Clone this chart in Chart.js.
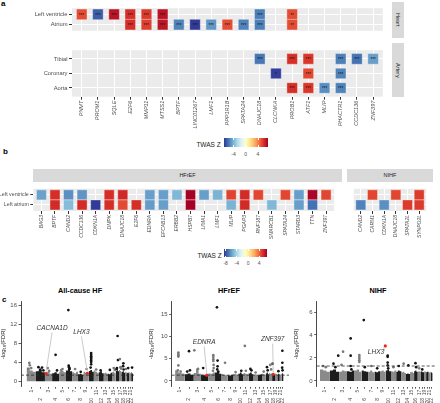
<!DOCTYPE html>
<html><head><meta charset="utf-8">
<script src="https://cdn.jsdelivr.net/npm/chart.js@4.4.0/dist/chart.umd.min.js"></script>
<style>
body{margin:0;background:#fff;width:440px;height:403px;overflow:hidden;position:relative;font-family:'Liberation Sans',Arial,sans-serif;}
canvas{position:absolute;}
.t{position:absolute;white-space:nowrap;line-height:1;}
.strip{position:absolute;background:#d9d9d9;color:#1a1a1a;font-size:5.5px;display:flex;align-items:center;justify-content:center;}
</style></head><body>
<script>
// ---------------- DATA ----------------
// Panel a
const genesA = ['PNMT','PROM1','SQLE','E2F6','MMP11','MTSS1','BPTF','LINC01267','LMF1','PPP1R1B','SPATA24','DNAJC18','CLCNKA','PROB1','ATF1','MLIP','PHACTR1','CCDC136','ZNF397'];
const heartTissues = ['Left ventricle','Atrium'];
const arteryTissues = ['Tibial','Coronary','Aorta'];
// [tissue, gene, TWAS Z, significance stars]
const heartCells = [
  ['Left ventricle','PNMT',5.3,'***'],['Left ventricle','PROM1',-6.1,'***'],['Left ventricle','SQLE',6.8,'***'],
  ['Left ventricle','E2F6',6.0,'***'],['Left ventricle','MMP11',5.7,'***'],['Left ventricle','MTSS1',6.8,'***'],
  ['Left ventricle','DNAJC18',-5.3,'***'],['Left ventricle','PROB1',5.3,'**'],
  ['Atrium','E2F6',6.0,'***'],['Atrium','MMP11',5.6,'***'],['Atrium','MTSS1',6.7,'***'],['Atrium','BPTF',-5.2,'***'],
  ['Atrium','LINC01267',-6.9,'***'],['Atrium','LMF1',-4.7,'***'],['Atrium','PPP1R1B',5.3,'***'],['Atrium','SPATA24',-5.2,'***'],
  ['Atrium','DNAJC18',-5.3,'***'],['Atrium','PROB1',5.3,'**']
];
const arteryCells = [
  ['Tibial','DNAJC18',-5.5,'***'],['Tibial','PROB1',6.0,'***'],['Tibial','ATF1',5.8,'***'],['Tibial','PHACTR1',-5.3,'***'],
  ['Tibial','CCDC136',-5.6,'***'],['Tibial','ZNF397',-4.5,'***'],
  ['Coronary','CLCNKA',-6.8,'*'],['Coronary','ATF1',5.4,'***'],['Coronary','PHACTR1',-5.2,'***'],
  ['Aorta','PROB1',6.0,'***'],['Aorta','ATF1',5.8,'***'],['Aorta','MLIP',-4.9,'***'],['Aorta','PHACTR1',-5.2,'***']
];
const limitsA = [-7, 7.4];
const cbTicksA = [-4, 0, 4];

// Panel b
const genesHFrEF = ['BAG3','BPTF','CAND2','CCDC136','CDKN1A','DMPK','DNAJC18','E2F6','EDNRA','EFCAB13','ERBB2','HSPB7','LIMA1','LMF1','MLIP','PGAP3','RNF187','SMARCB1','SPATA24','STARD3','TTN','ZNF397'];
const genesNIHF = ['CAND2','CARM1','CDKN1A','DNAJC18','SPATA2L','SYNPO2L'];
const tissuesB = ['Left ventricle','Left atrium'];
const hfrefCells = [
  ['Left ventricle','BAG3',-5.8],['Left ventricle','BPTF',5.4],['Left ventricle','CAND2',-6.3],['Left ventricle','CCDC136',-6.2],
  ['Left ventricle','DMPK',5.4],['Left ventricle','DNAJC18',5.6],['Left ventricle','EDNRA',-5.9],['Left ventricle','EFCAB13',-5.9],
  ['Left ventricle','ERBB2',-5.1],['Left ventricle','HSPB7',6.9],['Left ventricle','LIMA1',-5.9],['Left ventricle','LMF1',-5.3],
  ['Left ventricle','MLIP',4.9],['Left ventricle','PGAP3',5.5],['Left ventricle','RNF187',4.8],['Left ventricle','SPATA24',4.8],
  ['Left ventricle','STARD3',-5.9],['Left ventricle','TTN',6.7],['Left ventricle','ZNF397',4.8],
  ['Left atrium','BPTF',5.5],['Left atrium','CAND2',-5.0],['Left atrium','CCDC136',5.5],['Left atrium','CDKN1A',-8.5],
  ['Left atrium','DMPK',5.4],['Left atrium','DNAJC18',4.7],['Left atrium','E2F6',5.4],['Left atrium','EDNRA',-6.0],
  ['Left atrium','EFCAB13',-5.9],['Left atrium','HSPB7',6.9],['Left atrium','MLIP',-5.3],['Left atrium','PGAP3',5.5],
  ['Left atrium','SMARCB1',-5.1],['Left atrium','STARD3',-5.9],['Left atrium','TTN',-7.1]
];
const nihfCells = [
  ['Left ventricle','CARM1',4.8],['Left ventricle','DNAJC18',4.8],['Left ventricle','SYNPO2L',5.1],
  ['Left atrium','CAND2',-6.7],['Left atrium','CDKN1A',-6.3],['Left atrium','SPATA2L',5.1],['Left atrium','SYNPO2L',5.1]
];
const limitsB = [-8.6, 6.9];
const cbTicksB = [-8, -4, 0, 4];

// Panel c  (chromosome lengths in Mb)
const chrLen = [249,243,198,191,181,171,159,146,141,136,135,134,115,107,103,90,81,78,59,63,48,51];
const chrLabels = ['1','2','3','4','5','6','7','8','9','10','11','12','13','14','15','16','17','18','19','20','21','22'];
// background mass heights per chromosome (three segments each)
const massAll = [[2.9,2.3,2.0],[2.1,2.4,1.9],[1.8,2.0,1.6],[1.7,1.9,1.6],[2.0,2.2,1.9],[2.3,2.6,2.1],[1.9,1.7,2.0],[1.5,1.6,1.4],[2.0,1.8,1.7],[2.2,2.4,2.0],[2.3,2.0,1.8],[1.9,2.1,1.7],[1.7,1.8,1.6],[1.6,1.5,1.8],[1.9,2.0,1.7],[2.2,2.5,2.1],[2.4,2.2,2.0],[2.0,2.1,1.8],[1.9,2.0,1.8],[1.8,1.7,1.9],[1.6,1.8,1.7],[1.9,1.7,1.6]];
const massHFrEF = [[2.4,1.9,1.7],[1.5,1.7,1.4],[1.8,2.8,1.6],[1.4,1.3,1.5],[1.7,1.6,1.9],[1.9,2.2,1.6],[1.5,1.4,1.3],[1.3,1.2,1.4],[1.5,1.6,1.3],[1.6,1.9,1.5],[1.8,1.6,1.5],[1.7,1.9,1.5],[1.4,1.5,1.3],[1.3,1.4,1.5],[1.6,1.5,1.4],[1.7,1.9,1.5],[1.8,1.6,1.7],[1.5,1.6,1.4],[1.7,1.5,1.6],[1.4,1.6,1.5],[1.3,1.5,1.4],[1.6,1.8,1.5]];
const massNIHF = [[1.0,0.9,0.8],[0.9,1.0,0.8],[0.8,0.9,0.85],[0.85,0.8,0.9],[0.9,1.0,0.8],[0.9,0.85,0.8],[0.8,0.9,0.75],[0.8,0.75,0.85],[0.85,0.9,0.8],[0.9,1.0,0.85],[0.85,0.8,0.9],[0.8,0.9,0.85],[0.75,0.8,0.7],[0.6,0.65,0.6],[0.75,0.8,0.7],[0.85,0.9,0.8],[0.8,0.85,0.8],[0.85,0.8,0.75],[0.8,0.85,0.8],[0.75,0.8,0.8],[0.7,0.75,0.7],[0.8,0.75,0.7]];
// notable points: [chromosome, fraction along chromosome, -log10(FDR)]
const ptsAll = [[1,0.3,3.9],[1,0.35,3.4],[1,0.5,2.8],[1,0.2,2.6],[2,0.3,3.0],[2,0.7,2.9],[2,0.5,2.5],[2,0.85,2.3],[3,0.4,2.8],[3,0.6,2.2],
  [4,0.5,5.6],[4,0.7,2.3],[5,0.5,2.6],[5,0.3,2.3],[6,0.4,15.1],[6,0.45,3.3],[6,0.5,3.0],[6,0.55,2.8],[6,0.6,2.6],[7,0.5,2.6],[8,0.5,2.0],[9,0.6,2.6],
  [10,0.5,6.0],[10,0.5,5.6],[10,0.5,5.3],[10,0.5,5.0],[10,0.5,4.7],[10,0.5,4.4],[10,0.5,4.1],[10,0.5,3.6],[10,0.4,2.9],[11,0.5,2.5],[12,0.4,2.3],
  [14,0.5,2.4],[15,0.5,2.8],[15,0.8,2.4],[16,0.6,9.6],[16,0.7,4.5],[16,0.4,2.8],[16,0.3,2.6],[17,0.3,4.7],[17,0.5,3.0],[17,0.7,2.7],
  [18,0.5,3.8],[18,0.4,3.2],[18,0.6,2.5],[19,0.5,2.6],[20,0.5,2.8],[22,0.5,2.9]];
const ptsHFrEF = [[1,0.35,6.4],[1,0.35,6.1],[1,0.35,5.8],[1,0.35,5.5],[1,0.35,3.5],[1,0.3,2.4],[1,0.6,2.1],[2,0.5,6.7],[2,0.6,2.4],[2,0.3,2.1],
  [3,0.1,6.9],[3,0.6,2.7],[4,0.3,2.9],[5,0.75,5.8],[5,0.75,5.4],[5,0.75,4.9],[5,0.75,4.5],[5,0.8,3.6],[5,0.8,2.9],[5,0.7,2.3],
  [6,0.3,16.6],[6,0.4,4.6],[6,0.4,3.3],[6,0.35,2.6],[6,0.5,2.1],[7,0.6,4.1],[9,0.5,2.0],[10,0.6,2.3],[11,0.3,7.9],[11,0.5,2.3],
  [12,0.4,2.7],[12,0.6,2.4],[13,0.5,1.9],[15,0.5,2.1],[16,0.4,3.1],[16,0.6,2.4],[17,0.4,3.6],[17,0.7,2.6],[18,0.2,3.9],[20,0.5,2.2],
  [22,0.5,6.8],[22,0.5,4.1],[22,0.4,3.0],[22,0.6,2.4]];
const ptsNIHF = [[1,0.3,1.3],[1,0.6,1.2],[2,0.4,1.5],[2,0.6,1.2],[2,0.9,2.2],[3,0.5,2.55],[3,0.3,1.4],[4,0.5,3.7],[4,0.5,2.2],[4,0.5,1.3],[4,0.6,1.0],
  [5,0.7,2.25],[5,0.7,2.1],[5,0.7,1.95],[5,0.7,1.8],[5,0.7,1.65],[6,0.35,5.3],[6,0.5,1.2],[7,0.5,1.3],[8,0.5,1.1],
  [10,0.4,2.2],[10,0.4,2.1],[10,0.4,1.6],[10,0.4,1.35],[10,0.5,1.1],[11,0.5,1.2],[12,0.5,1.3],[13,0.5,1.5],[14,0.6,1.35],
  [16,0.4,1.55],[16,0.6,1.2],[17,0.5,1.1],[18,0.5,1.0]];
// highlighted genes: [gene, chromosome, fraction, -log10(FDR)]
const hitsAll = [['CACNA1D',3,0.18,1.65],['LHX3',9,0.75,1.7]];
const hitsHFrEF = [['EDNRA',4,0.8,1.3],['ZNF397',18,0.4,1.5]];
const hitsNIHF = [['LHX3',9,0.95,3.05]];
const fdrLine = 1.3;

// ---------------- LAYOUT / STYLE ----------------
const FONT = "'Liberation Sans', Arial, sans-serif";
Chart.defaults.font.family = FONT;
Chart.defaults.color = '#4d4d4d';
Chart.defaults.animation = false;
Chart.defaults.responsive = false;
Chart.defaults.events = [];
Chart.defaults.plugins.legend.display = false;
Chart.defaults.plugins.tooltip.enabled = false;

const RDYLBU = ['#313695','#4575b4','#74add1','#abd9e9','#e0f3f8','#ffffbf','#fee090','#fdae61','#f46d43','#d73027','#a50026'];
function rgb(h){return [parseInt(h.slice(1,3),16),parseInt(h.slice(3,5),16),parseInt(h.slice(5,7),16)];}
function zColor(z, lim){
  let t=(z-lim[0])/(lim[1]-lim[0]); t=Math.max(0,Math.min(1,t));
  const p=t*10, i=Math.min(9,Math.floor(p)), f=p-i;
  const a=rgb(RDYLBU[i]), b=rgb(RDYLBU[i+1]);
  return 'rgb('+a.map((v,k)=>Math.round(v+(b[k]-v)*f)).join(',')+')';
}
function mkCanvas(left,top,w,h){
  const c=document.createElement('canvas'); c.width=w; c.height=h;
  c.style.left=left+'px'; c.style.top=top+'px'; c.style.width=w+'px'; c.style.height=h+'px';
  document.body.appendChild(c); return c.getContext('2d');
}
function addText(txt,x,y,css,anchor){
  const d=document.createElement('div'); d.className='t'; d.textContent=txt;
  d.style.left=x+'px'; d.style.top=y+'px';
  if(anchor==='c') d.style.transform='translate(-50%,-50%)';
  if(anchor==='r') d.style.transform='translate(-100%,-50%)';
  Object.assign(d.style,css||{}); document.body.appendChild(d); return d;
}
function addStrip(txt,x,y,w,h,vertical){
  const d=document.createElement('div'); d.className='strip';
  d.style.left=x+'px'; d.style.top=y+'px'; d.style.width=w+'px'; d.style.height=h+'px';
  const s=document.createElement('span'); s.textContent=txt; if(vertical) s.style.writingMode='vertical-rl';
  d.appendChild(s); document.body.appendChild(d);
}
function colorbar(left,top,w,h,lim,ticks,titleRight,titleCy,labelCy){
  const bar=document.createElement('div');
  bar.style.cssText='position:absolute;left:'+left+'px;top:'+top+'px;width:'+w+'px;height:'+h+'px;background:linear-gradient(to right,'+RDYLBU.join(',')+');';
  document.body.appendChild(bar);
  ticks.forEach(v=>{
    const x=left+(v-lim[0])/(lim[1]-lim[0])*w;
    ['top','bottom'].forEach(side=>{const tk=document.createElement('div');
      tk.style.cssText='position:absolute;left:'+(x-0.4)+'px;width:0.8px;height:1.6px;background:#fff;'+(side==='top'?'top:'+top:'top:'+(top+h-1.6))+'px;';
      document.body.appendChild(tk);});
    addText(String(v),x,labelCy,{fontSize:'5px',color:'#4d4d4d'},'c');
  });
  addText('TWAS Z',titleRight,titleCy,{fontSize:'6.5px',color:'#1a1a1a'},'r');
}

const panelBg={id:'panelBg',beforeDraw(chart,args,opts){
  if(!opts||!opts.color) return; const a=chart.chartArea, ctx=chart.ctx;
  ctx.save(); ctx.fillStyle=opts.color; ctx.fillRect(a.left,a.top,a.right-a.left,a.bottom-a.top); ctx.restore();}};
const starsPlugin={id:'stars',afterDatasetsDraw(chart){
  const meta=chart.getDatasetMeta(0), ds=chart.data.datasets[0], ctx=chart.ctx;
  ctx.save(); ctx.fillStyle='#1a1a1a'; ctx.font='4.5px '+FONT; ctx.textAlign='center'; ctx.textBaseline='middle';
  meta.data.forEach((el,i)=>{const s=ds.data[i].s; if(s) ctx.fillText(s,el.x,el.y+1);});
  ctx.restore();}};

function heatmap(ctx,cfg){
  const data=cfg.cells.map(c=>({x:cfg.genes.indexOf(c[1]),y:cfg.tissues.indexOf(c[0]),z:c[2],s:c[3]||''}));
  return new Chart(ctx,{type:'scatter',
    data:{datasets:[{data,pointStyle:'rect',pointRadius:cfg.r,
      pointBackgroundColor:data.map(d=>zColor(d.z,cfg.lim)),pointBorderColor:'rgba(255,255,255,0.55)',pointBorderWidth:0.7}]},
    options:{devicePixelRatio:1,layout:{padding:cfg.padding},
      plugins:{panelBg:{color:'#ebebeb'}},
      scales:{
        x:{type:'linear',min:-0.6,max:cfg.genes.length-0.4,
          afterBuildTicks:s=>{s.ticks=cfg.genes.map((g,i)=>({value:i}));},
          afterFit:s=>{s.height=cfg.xH;},
          grid:{color:'#ffffff',lineWidth:1,drawTicks:cfg.showX,tickLength:3,tickColor:'#333'},
          border:{display:false},
          ticks:{display:cfg.showX,autoSkip:false,minRotation:90,maxRotation:90,padding:1,
            font:{size:cfg.fs,style:'italic'},color:'#4d4d4d',callback:v=>cfg.genes[v]}},
        y:{type:'linear',reverse:true,min:-0.6,max:cfg.tissues.length-0.4,
          afterBuildTicks:s=>{s.ticks=cfg.tissues.map((g,i)=>({value:i}));},
          afterFit:s=>{s.width=cfg.yW;},
          grid:{color:'#ffffff',lineWidth:1,drawTicks:cfg.showY,tickLength:3,tickColor:'#333'},
          border:{display:false},
          ticks:{display:cfg.showY,autoSkip:false,padding:1.5,font:{size:cfg.fs+0.3},color:'#4d4d4d',callback:v=>cfg.tissues[v]}}
      }},
    plugins:[panelBg].concat(cfg.stars?[starsPlugin]:[])});
}

// Manhattan helpers
const chrStart=[]; (function(){let acc=0; chrLen.forEach(l=>{chrStart.push(acc); acc+=l;});})();
const chrMid=chrLen.map((l,i)=>chrStart[i]+l/2);
function gpos(chr,frac){return chrStart[chr-1]+frac*chrLen[chr-1];}

const annPlugin={id:'ann',afterDatasetsDraw(chart,args,opts){
  if(!opts||!opts.items) return; const ctx=chart.ctx, X=chart.scales.x, Y=chart.scales.y;
  ctx.save(); ctx.font='italic 6.5px '+FONT; ctx.textAlign='center'; ctx.textBaseline='middle';
  opts.items.forEach(it=>{
    const lx=X.getPixelForValue(it.lx), ly=Y.getPixelForValue(it.ly);
    const px=X.getPixelForValue(it.px), py=Y.getPixelForValue(it.py);
    const w=ctx.measureText(it.text).width;
    ctx.strokeStyle='#c4c4c4'; ctx.lineWidth=0.9; ctx.beginPath();
    if(it.line==='below'){ctx.moveTo(lx,ly+4); ctx.lineTo(px,py-1.5); ctx.stroke();}
    else if(it.line==='right'){ctx.moveTo(lx+w/2+0.5,ly-1); ctx.lineTo(px-1.5,py+1); ctx.stroke();}
    ctx.fillStyle='#333'; ctx.fillText(it.text,lx,ly);
  });
  ctx.restore();}};

function manhattan(ctx,cfg){
  const ds=[];
  cfg.mass.forEach((h,i)=>{
    const s=chrStart[i], L=chrLen[i], n=h.length;
    const pts=h.map((v,k)=>({x:s+L*k/n,y:v})); pts.push({x:s+L+6,y:h[n-1]});
    ds.push({type:'line',data:pts,stepped:true,fill:'origin',backgroundColor:i%2?'#1c1c1c':'#8a8a8a',
      borderColor:'rgba(0,0,0,0)',borderWidth:0,pointRadius:0,order:5});
  });
  const pts=cfg.pts.map(p=>({x:gpos(p[0],p[1]),y:p[2],c:p[0]}));
  ds.push({type:'scatter',data:pts,pointRadius:1.35,borderWidth:0,
    pointBackgroundColor:pts.map(p=>p.c%2?'#7a7a7a':'#141414'),order:3});
  ds.push({type:'line',data:[{x:cfg.xr[0],y:fdrLine},{x:cfg.xr[1],y:fdrLine}],borderDash:[3,2],borderColor:'#2a2a2a',
    borderWidth:0.8,pointRadius:0,fill:false,order:2});
  const hits=cfg.hits.map(h=>({x:gpos(h[1],h[2]),y:h[3]}));
  ds.push({type:'scatter',data:hits,pointRadius:1.6,borderWidth:0,pointBackgroundColor:'#e8261f',order:1});
  const items=cfg.hits.map((h,i)=>{const lp=cfg.labelPos[i];
    return {text:h[0],lx:gpos(lp[0],lp[1]),ly:lp[2],px:gpos(h[1],h[2]),py:h[3],line:lp[3]};});
  return new Chart(ctx,{type:'scatter',data:{datasets:ds},
    options:{devicePixelRatio:1,layout:{padding:cfg.padding},
      plugins:{ann:{items}},
      scales:{
        x:{type:'linear',min:cfg.xr[0],max:cfg.xr[1],
          afterBuildTicks:s=>{s.ticks=chrMid.map(v=>({value:v}));},
          afterFit:s=>{s.height=cfg.xH;},
          grid:{drawOnChartArea:false,drawTicks:true,tickLength:2,tickColor:'#333',lineWidth:0.8},
          border:{display:false},
          ticks:{autoSkip:false,minRotation:90,maxRotation:90,padding:1,font:{size:5},color:'#4d4d4d',
            callback:(v,i)=>i%2?chrLabels[i]+'      ':chrLabels[i]}},
        y:{type:'linear',min:cfg.yr[0],max:cfg.yr[1],
          afterBuildTicks:s=>{s.ticks=cfg.yTicks.map(v=>({value:v}));},
          afterFit:s=>{s.width=cfg.yW;},
          grid:{drawOnChartArea:false,drawTicks:true,tickLength:2.5,tickColor:'#333',lineWidth:0.8},
          border:{display:true,color:'#1a1a1a',width:0.8},
          ticks:{padding:1.5,font:{size:6},color:'#4d4d4d'},
          title:{display:true,text:'-log\u2081\u2080(FDR)',font:{size:6},color:'#1a1a1a',padding:{top:0,bottom:1}}}
      }},
    plugins:[annPlugin]});
}

// ---------------- PANEL A ----------------
addText('a',1,0,{fontSize:'8px',fontWeight:'bold',color:'#000'});
heatmap(mkCanvas(0,0,391,39),{genes:genesA,tissues:heartTissues,cells:heartCells,lim:limitsA,r:7.5,
  padding:{top:1.7,right:1,bottom:0.7,left:0},yW:72,xH:0,showX:false,showY:true,fs:5.5,stars:true});
heatmap(mkCanvas(0,42,391,93),{genes:genesA,tissues:arteryTissues,cells:arteryCells,lim:limitsA,r:7.5,
  padding:{top:1.3,right:1,bottom:0,left:0},yW:72,xH:38.3,showX:true,showY:true,fs:5.5,stars:true});
addStrip('Heart',391.7,1.7,12.3,36.6,true);
addStrip('Artery',391.7,43.3,12.3,53.4,true);
colorbar(224.3,138.3,44,8.4,limitsA,cbTicksA,220.7,145,154);

// ---------------- PANEL B ----------------
addText('b',3,148,{fontSize:'8px',fontWeight:'bold',color:'#000'});
addStrip('HFrEF',33.3,169.3,308.4,12.4,false);
addStrip('NIHF',346.7,169.3,86.6,12.4,false);
heatmap(mkCanvas(0,181,342,62),{genes:genesHFrEF,tissues:tissuesB,cells:hfrefCells,lim:limitsB,r:7.1,
  padding:{top:0.7,right:0.3,bottom:0,left:0},yW:33.3,xH:32,showX:true,showY:true,fs:5});
heatmap(mkCanvas(346,181,88,62),{genes:genesNIHF,tissues:tissuesB,cells:nihfCells,lim:limitsB,r:7.1,
  padding:{top:0.7,right:0.7,bottom:0,left:0.7},yW:0,xH:32,showX:true,showY:false,fs:5});
colorbar(224,249.3,43.3,8,limitsB,cbTicksB,221.7,256,262.7);

// ---------------- PANEL C ----------------
addText('c',2,296,{fontSize:'8px',fontWeight:'bold',color:'#000'});
addText('All-cause HF',80,291,{fontSize:'7.3px',fontWeight:'bold',color:'#000'},'c');
addText('HFrEF',229,291,{fontSize:'7.3px',fontWeight:'bold',color:'#000'},'c');
addText('NIHF',378,291,{fontSize:'7.3px',fontWeight:'bold',color:'#000'},'c');
manhattan(mkCanvas(0,296,140,107),{mass:massAll,pts:ptsAll,hits:hitsAll,
  labelPos:[[3,1.0,11.2,'below'],[8,0.63,10.4,'below']],
  xr:[-150,2960],yr:[-1.15,17.0],yTicks:[0,4,8,12,16],yW:21,xH:16.3,padding:{top:4,right:1,left:0,bottom:0}});
manhattan(mkCanvas(148,296,145,107),{mass:massHFrEF,pts:ptsHFrEF,hits:hitsHFrEF,
  labelPos:[[4,0.44,8.7,'below'],[18,0.2,9.3,'below']],
  xr:[-90,3030],yr:[-1.3,18.0],yTicks:[0,5,10,15],yW:23.7,xH:16.3,padding:{top:4,right:1,left:0,bottom:0}});
manhattan(mkCanvas(293,296,147,107),{mass:massNIHF,pts:ptsNIHF,hits:hitsNIHF,
  labelPos:[[8,0.29,2.5,'right']],
  xr:[-84,2971],yr:[-0.5,6.95],yTicks:[0,2,4,6],yW:23.7,xH:16.3,padding:{top:4,right:2,left:0,bottom:0}});
</script>
</body></html>
